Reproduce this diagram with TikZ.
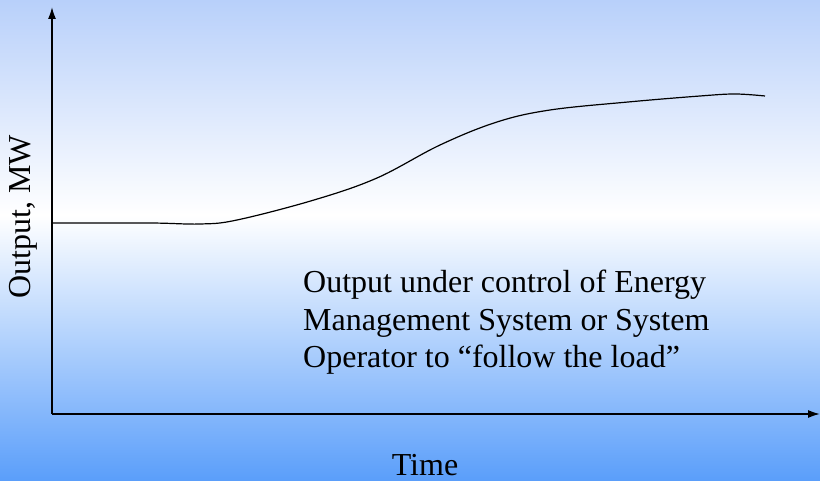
\documentclass[tikz,border=0pt]{standalone}
\usepackage{fontspec}
\setmainfont{Liberation Serif}
\usepackage{xcolor}
\usetikzlibrary{arrows.meta}
\definecolor{skytop}{HTML}{B8D0FA}
\definecolor{skybottom}{HTML}{5A9EFA}
\tikzset{
  axisline/.style={line width=1.6pt, -{Latex[length=12pt,width=8pt]}},
  loadcurve/.style={line width=1.2pt},
  plainlabel/.style={font=\fontsize{32}{37.5}\selectfont, inner sep=0pt}
}

\begin{document}
\begin{tikzpicture}[x=1pt,y=-1pt]
\useasboundingbox (0,0) rectangle (820,481);
\shade[top color=skytop, bottom color=white] (0,0) rectangle (820,215);
\shade[top color=white, bottom color=skybottom] (0,215) rectangle (820,481);
\coordinate (origin) at (52,414);
\coordinate (ytip) at (52,7);
\coordinate (xtip) at (820,414);
\draw[axisline] (origin) -- (ytip);
\draw[axisline] (origin) -- (xtip);
\draw[loadcurve] plot[smooth, tension=0.6] coordinates {
  (52,223) (150,223) (200,224) (237,220) (314,200) (377,178) (440,145)
  (497,122) (550,110) (628,102) (700,96) (735,94) (765,96)};
\node[plainlabel, anchor=north west, align=left] (note) at (303,270) {Output under control of Energy\\Management System or System\\Operator to ``follow the load''};
\node[plainlabel] (xlabel) at (425,465) {Time};
\node[plainlabel, rotate=90] (ylabel) at (23,217) {Output, MW};
\end{tikzpicture}
\end{document}
